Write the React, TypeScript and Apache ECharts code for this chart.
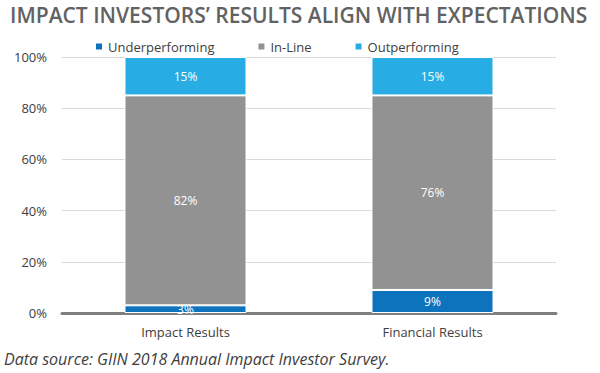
import React, { useEffect, useRef } from "react";
import * as echarts from "echarts";

const categories = ["Impact Results", "Financial Results"];
const underperforming = [3, 9];
const inLine = [82, 76];
const outperforming = [15, 15];
const seriesNames = ["Underperforming", "In-Line", "Outperforming"];
const titleText = "IMPACT INVESTORS\u2019 RESULTS ALIGN WITH EXPECTATIONS";
const sourceText = "Data source: GIIN 2018 Annual Impact Investor Survey.";

const colors = ["#0E73BD", "#929292", "#27ACE3"];

export default function App() {
  const ref = useRef<HTMLDivElement>(null);
  useEffect(() => {
    const chart = echarts.init(ref.current!, null, { renderer: "svg" });
    const font = "'Open Sans', 'Noto Sans', sans-serif";
    const mk = (name: string, data: number[], i: number) => ({
      name,
      type: "bar",
      stack: "total",
      data,
      barWidth: "49.4%",
      itemStyle: { color: colors[i], borderColor: "#ffffff", borderWidth: 1 },
      label: {
        show: true,
        position: "inside",
        formatter: "{c}%",
        color: "#ffffff",
        fontSize: 12,
        fontFamily: font,
      },
    });
    chart.setOption({
      animation: false,
      color: colors,
      title: {
        text: titleText,
        left: 5,
        top: -1,
        textStyle: {
          fontFamily: font,
          fontSize: 21,
          fontWeight: 600,
          color: "#626262",
        },
      },
      legend: {
        top: 35,
        left: 89,
        itemWidth: 8,
        itemHeight: 8,
        itemGap: 42,
        icon: "rect",
        textStyle: { fontFamily: font, fontSize: 13, color: "#404040" },
        data: seriesNames,
      },
      grid: { left: 62, right: 44, top: 57, bottom: 60 },
      xAxis: {
        type: "category",
        data: categories,
        axisLine: { lineStyle: { color: "#7f7f7f", width: 3 } },
        axisTick: { show: false },
        axisLabel: { fontFamily: font, fontSize: 13, color: "#404040", margin: 12 },
      },
      yAxis: {
        type: "value",
        min: 0,
        max: 100,
        interval: 20,
        axisLabel: {
          formatter: "{value}%",
          fontFamily: font,
          fontSize: 13,
          color: "#404040",
          margin: 15,
        },
        splitLine: { lineStyle: { color: "#d9d9d9", width: 1 } },
        axisLine: { show: false },
        axisTick: { show: false },
      },
      graphic: [
        {
          type: "text",
          left: 4,
          top: 351,
          style: {
            text: sourceText,
            font: `italic 16px ${font}`,
            fill: "#404040",
          },
        },
      ],
      series: [
        mk(seriesNames[0], underperforming, 0),
        mk(seriesNames[1], inLine, 1),
        mk(seriesNames[2], outperforming, 2),
      ],
    });
    return () => chart.dispose();
  }, []);
  return <div ref={ref} style={{ width: 600, height: 373, position: "absolute", left: 0, top: 0 }} />;
}
